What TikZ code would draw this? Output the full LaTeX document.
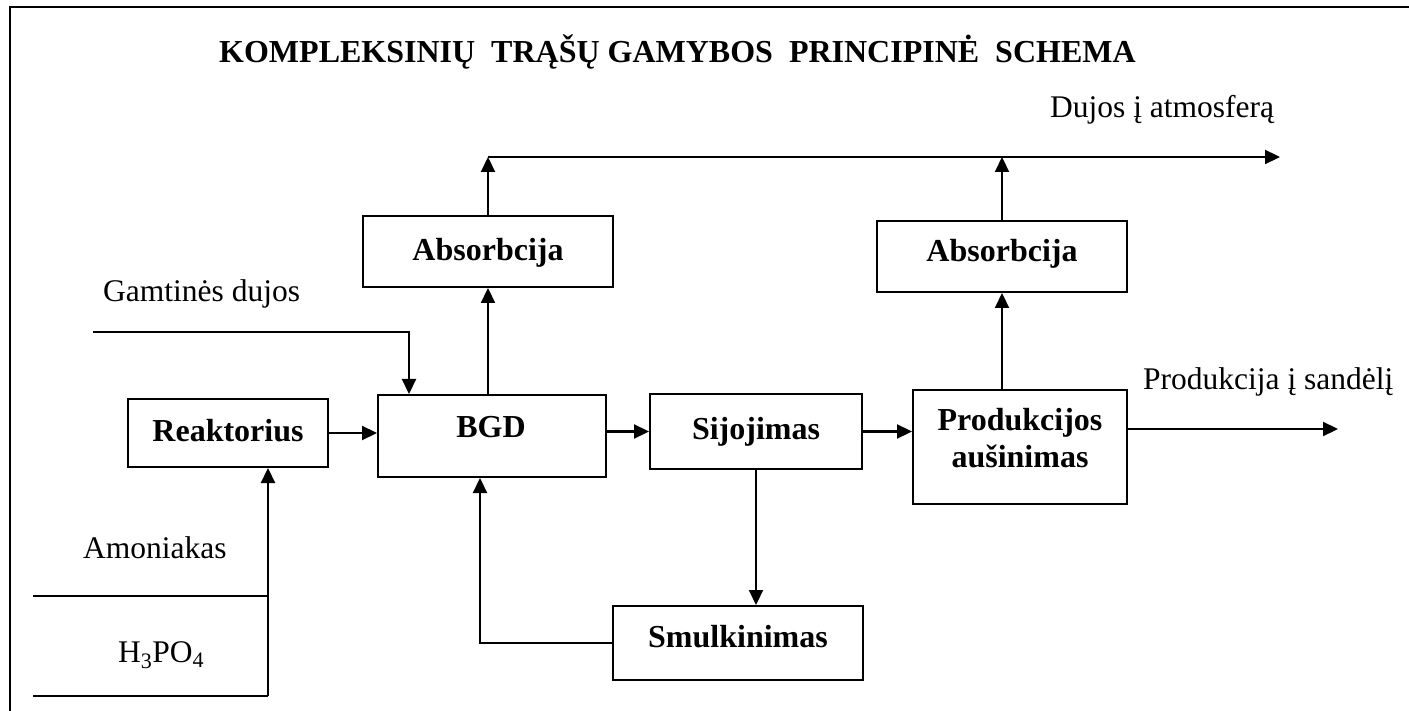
\documentclass[tikz,border=0pt]{standalone}
\usepackage{fontspec}
\setmainfont{Liberation Serif}
\usetikzlibrary{arrows.meta,calc}
\begin{document}
\begin{tikzpicture}[x=1pt,y=-1pt,
  box/.style={draw,line width=2pt,inner sep=0pt},
  btxt/.style={font=\fontsize{32}{37}\selectfont\bfseries,anchor=base,inner sep=0pt,align=center},
  ntxt/.style={font=\fontsize{31.5}{37}\selectfont,anchor=base west,inner sep=0pt},
  ln/.style={line width=2.2pt},
  arr/.style={line width=2.2pt,-{Triangle[length=15pt,width=14pt]}},
  frame/.style={line width=2pt}]
\useasboundingbox (0,0) rectangle (1409,711);
% frame
\coordinate (fr0) at (10,711);
\coordinate (fr1) at (10,7);
\coordinate (fr2) at (1409,7);
\draw[frame] (fr0) -- (fr1) -- (fr2);
% title
\node[btxt,anchor=base west] (title) at (219,63) {KOMPLEKSINIŲ\ \ TRĄŠŲ GAMYBOS\ \ PRINCIPINĖ\ \ SCHEMA};
% boxes
\node[box,minimum width=200pt,minimum height=68pt] (reak) at (228,433) {};
\node[box,minimum width=228pt,minimum height=82pt] (bgd) at (492,436) {};
\node[box,minimum width=250pt,minimum height=71pt] (abs1) at (488,251.5) {};
\node[box,minimum width=212pt,minimum height=75pt] (sij) at (756,431.5) {};
\node[box,minimum width=214pt,minimum height=114pt] (prod) at (1020,447) {};
\node[box,minimum width=250pt,minimum height=71pt] (abs2) at (1002,256.5) {};
\node[box,minimum width=250pt,minimum height=74pt] (smul) at (738,643) {};
% box texts
\node[btxt] (treak) at (228,441) {Reaktorius};
\node[btxt] (tbgd) at (491,437) {BGD};
\node[btxt] (tabs1) at (488,261) {Absorbcija};
\node[btxt] (tsij) at (756,439) {Sijojimas};
\node[btxt] (tprod) at (1020,430) {Produkcijos};
\node[btxt] (tprod2) at (1020,467) {aušinimas};
\node[btxt] (tabs2) at (1002,262) {Absorbcija};
\node[btxt] (tsmul) at (738,647) {Smulkinimas};
% free labels
\node[ntxt] (ldujos) at (1050,118) {Dujos į atmosferą};
\node[ntxt] (lgamt) at (103,302) {Gamtinės dujos};
\node[ntxt] (lprodk) at (1143,390) {Produkcija į sandėlį};
\node[ntxt] (lamon) at (83,558) {Amoniakas};
\node[ntxt] (lh3) at (118,662) {H\textsubscript{3}PO\textsubscript{4}};
% coordinates
\coordinate (t0) at (488,157);
\coordinate (t1) at (1280,157);
\coordinate (g0) at (93,332);
\coordinate (out) at (1338,429);
\coordinate (a0) at (33,596);
\coordinate (h0) at (33,696);
\coordinate (r1) at (268,696);
% connectors
\draw[arr] (t0) -- (t1);
\draw[arr] (abs1.north) -- (abs1.north |- t0);
\draw[arr] (abs2.north) -- (abs2.north |- t0);
\draw[arr] (g0) -| ($(bgd.north west)+(32,0)$);
\draw[arr] (bgd.north -| abs1.south) -- (abs1.south);
\draw[arr] (reak.east) -- (reak.east -| bgd.west);
\draw[arr] (sij.west -| bgd.east) -- (sij.west);
\draw[arr] (sij.east) -- (sij.east -| prod.west);
\draw[arr] (out -| prod.east) -- (out);
\draw[arr] (prod.north -| abs2.south) -- (abs2.south);
\draw[arr] (sij.south) -- (sij.south |- smul.north);
\draw[arr] (smul.west) -| ($(bgd.south west)+(103,0)$);
\draw[ln] (h0) -- (r1);
\draw[ln] (a0) -- (a0 -| r1);
\draw[arr] (r1) -- (r1 |- reak.south);
\end{tikzpicture}
\end{document}
